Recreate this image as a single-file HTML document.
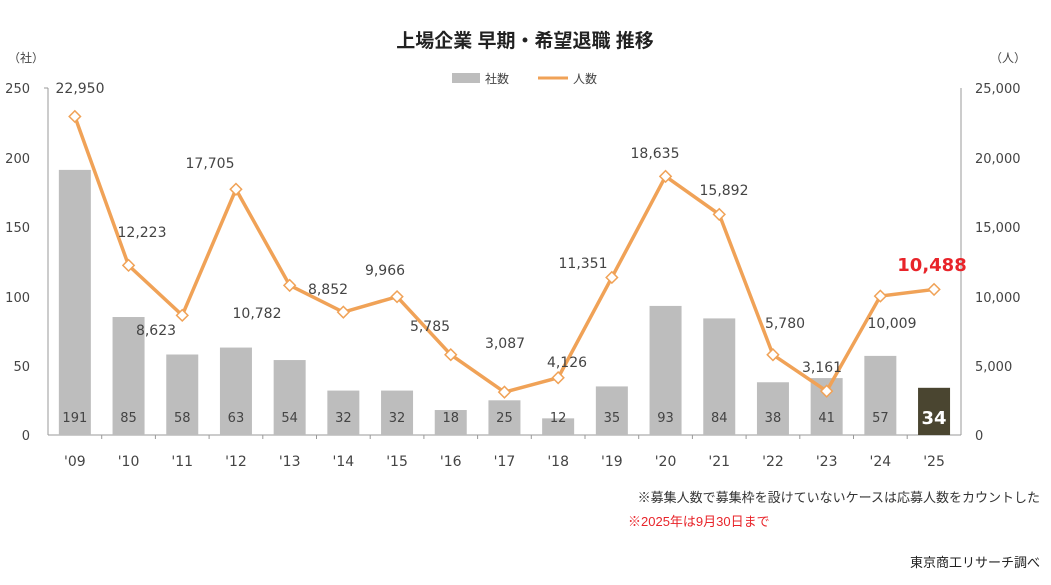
<!DOCTYPE html>
<html><head><meta charset="utf-8"><style>
body{margin:0;background:#fff;width:1051px;height:580px;overflow:hidden}
svg text{font-family:"DejaVu Sans","Noto Sans CJK JP",sans-serif}
.j{font-family:"Liberation Sans","Noto Sans CJK JP",sans-serif}
</style></head><body>
<svg width="1051" height="580" viewBox="0 0 1051 580" xmlns="http://www.w3.org/2000/svg">
<text x="525" y="47" text-anchor="middle" font-size="19" font-weight="bold" class="j" fill="#222">上場企業 早期・希望退職 推移</text>
<text x="8" y="62" font-size="12" class="j" fill="#444">（社）</text>
<text x="990" y="62" font-size="12" class="j" fill="#444">（人）</text>
<rect x="452" y="73" width="28" height="10" fill="#bdbdbd"/>
<text x="485" y="83" font-size="12" class="j" fill="#444">社数</text>
<line x1="538" y1="78" x2="568" y2="78" stroke="#f0a257" stroke-width="3"/>
<text x="573" y="83" font-size="12" class="j" fill="#444">人数</text>
<g font-size="13" fill="#444">
<text x="30" y="93" text-anchor="end">250</text>
<text x="30" y="163" text-anchor="end">200</text>
<text x="30" y="232" text-anchor="end">150</text>
<text x="30" y="302" text-anchor="end">100</text>
<text x="30" y="371" text-anchor="end">50</text>
<text x="30" y="440" text-anchor="end">0</text>
<text x="975" y="93">25,000</text>
<text x="975" y="163">20,000</text>
<text x="975" y="232">15,000</text>
<text x="975" y="302">10,000</text>
<text x="975" y="371">5,000</text>
<text x="975" y="440">0</text>
</g>
<line x1="48" y1="88" x2="48" y2="435" stroke="#999"/>
<line x1="44" y1="88" x2="48" y2="88" stroke="#999"/>
<line x1="961" y1="88" x2="961" y2="435" stroke="#999"/>
<line x1="48" y1="435" x2="961" y2="435" stroke="#999"/>
</svg>
<script>
var b=[191,85,58,63,54,32,32,18,25,12,35,93,84,38,41,57,34];
var p=[22950,12223,8623,17705,10782,8852,9966,5785,3087,4126,11351,18635,15892,5780,3161,10009,10488];
var yrs=["'09","'10","'11","'12","'13","'14","'15","'16","'17","'18","'19","'20","'21","'22","'23","'24","'25"];
var lp=[[80,93],[142,237],[156,335],[210,168],[257,318],[328,294],[385,275],[430,331],[505,348],[567,367],[583,268],[655,158],[724,195],[785,328],[822,372],[892,328]];
var NS="http://www.w3.org/2000/svg",s=document.querySelector('svg');
function el(t,a,txt){var e=document.createElementNS(NS,t);for(var k in a)e.setAttribute(k,a[k]);if(txt!=null)e.textContent=txt;s.appendChild(e);return e;}
var w=53.7,pts=[];
for(var i=0;i<17;i++){var cx=48+w*(i+0.5),h=b[i]*1.388;
el('rect',{x:cx-16,y:435-h,width:32,height:h,fill:i==16?'#4a4530':'#bdbdbd'});
if(i<16)el('text',{x:cx,y:422,'text-anchor':'middle','font-size':13,fill:'#444'},b[i]);
else el('text',{x:cx,y:424,'text-anchor':'middle','font-size':18,'font-weight':'bold',fill:'#fff'},b[i]);
el('text',{x:cx,y:466,'text-anchor':'middle','font-size':14,fill:'#444'},yrs[i]);
if(i<16)el('line',{x1:48+w*(i+1),y1:435,x2:48+w*(i+1),y2:439,stroke:'#999'});
pts.push([cx,435-p[i]*0.01388]);}
el('polyline',{points:pts.map(function(q){return q.join(',')}).join(' '),fill:'none',stroke:'#f0a257','stroke-width':3.5});
pts.forEach(function(q){el('rect',{x:q[0]-4,y:q[1]-4,width:8,height:8,fill:'#fff',stroke:'#f0a257','stroke-width':1.5,transform:'rotate(45 '+q[0]+' '+q[1]+')'});});
for(var i=0;i<16;i++)el('text',{x:lp[i][0],y:lp[i][1],'text-anchor':'middle','font-size':14,fill:'#444'},p[i].toLocaleString('en-US'));
el('text',{x:932,y:271,'text-anchor':'middle','font-size':18,'font-weight':'bold',fill:'#e8242a'},'10,488');
el('text',{x:1040,y:502,'text-anchor':'end','font-size':13,fill:'#333','class':'j'},'※募集人数で募集枠を設けていないケースは応募人数をカウントした');
el('text',{x:628,y:526,'font-size':13,fill:'#e8242a','class':'j'},'※2025年は9月30日まで');
el('text',{x:1040,y:567,'text-anchor':'end','font-size':13,fill:'#222','class':'j'},'東京商工リサーチ調べ');
</script>
</body></html>
